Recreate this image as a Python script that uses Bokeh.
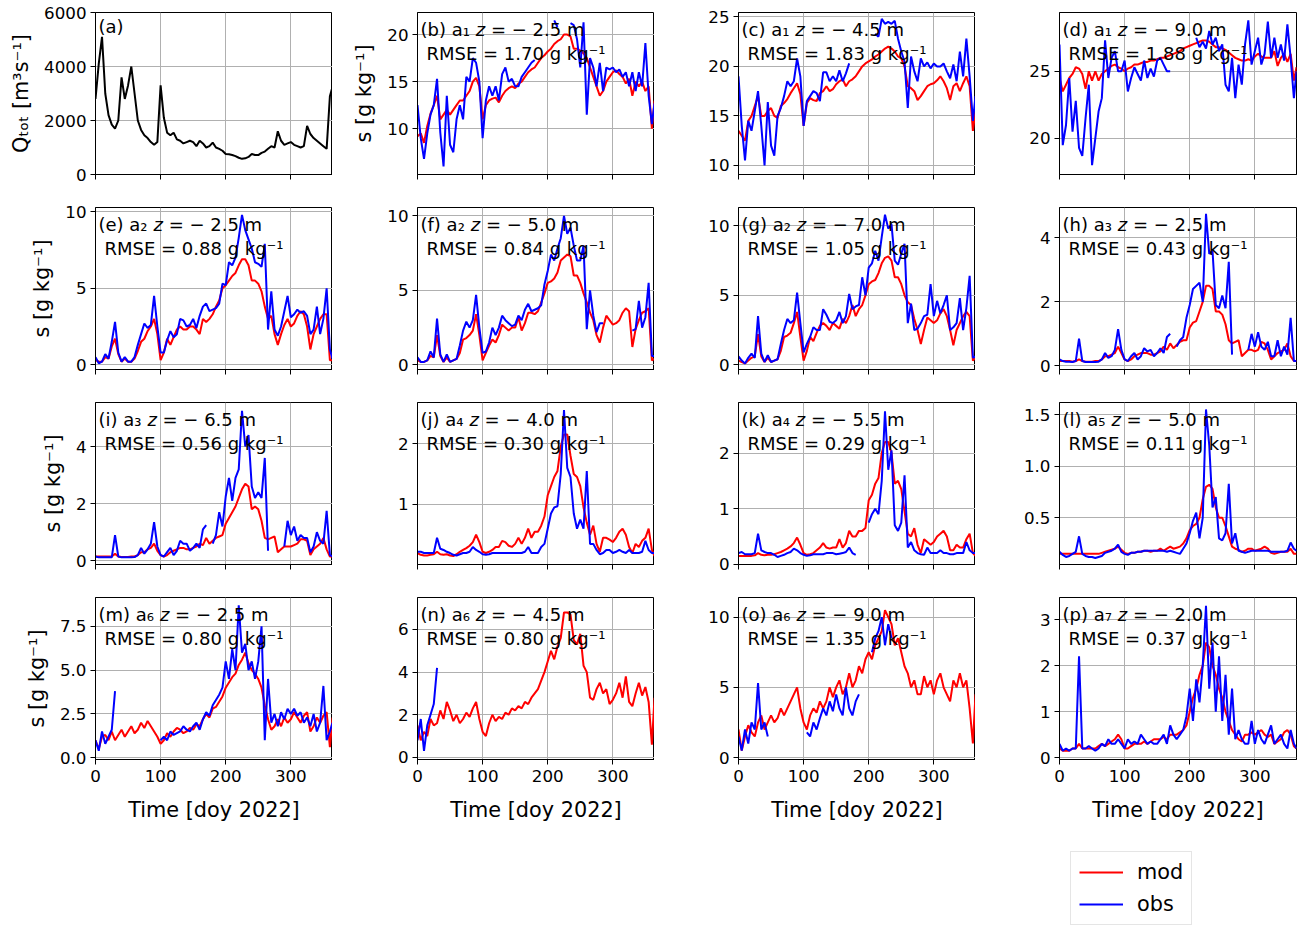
from bokeh.plotting import figure
from bokeh.models import Range1d, FixedTicker, Label, Legend, LegendItem, PrintfTickFormatter
from bokeh.layouts import gridplot, column
from bokeh.embed import file_html
from bokeh.resources import INLINE

nan = float("nan")

# ---------------- data ----------------
doy = list(range(0, 361, 5)) + [364]
x_ticks = [0, 100, 200, 300]

q_tot = [
    2800, 4100, 5100, 3000, 2200, 1850, 1700, 2000, 3600, 2800,
    3300, 4000, 3000, 2000, 1650, 1450, 1350, 1200, 1100, 1200,
    3300, 2100, 1550, 1450, 1550, 1300, 1250, 1150, 1200, 1250,
    1200, 1050, 1250, 1150, 1000, 1050, 1180, 1000, 950, 880,
    760, 750, 720, 680, 620, 580, 600, 650, 760, 720,
    720, 800, 850, 950, 1050, 1000, 1600, 1250, 1100, 1150,
    1200, 1100, 1050, 1000, 1050, 1800, 1500, 1350, 1250, 1150,
    1050, 950, 2900, 3250]

b_mod = [
    9.2, 9.5, 8.5, 10.3, 11.6, 12.5, 13.5, 11, 11.5, 12,
    11.5, 12, 12.5, 13, 13, 13.5, 14, 15, 15.4, 14.5,
    11, 12.5, 13, 13.2, 13.3, 12.8, 13.5, 14, 14.3, 14.5,
    14.3, 14.8, 15, 15.5, 16, 16.3, 16.5, 17, 17.5, 17.8,
    18.2, 18.5, 19, 19.3, 19.5, 20, 20, 19.8, 18.5, 18.5,
    18.3, 18, 17.5, 16.5, 15.5, 14.5, 13.5, 14, 15, 15.5,
    16, 16.2, 15.8, 15.5, 14.8, 15.3, 13.5, 15, 14.5, 15,
    14, 14.5, 10, 13]
b_obs = [
    12.5, 9, 6.8, 9.5, 11.5, 12.5, 15.3, 9.6, 6.0, 13.5,
    8.3, 7.5, 11, 12.5, 11, 15.5, 15, 17.5, 17, 15,
    9, 13, 14.5, 13.5, 14.5, 13, 15.8, 16.5, 15, 15.3,
    14.5, 14.5, 15.5, 16, 16.5, 17, 17.3, nan, nan, nan,
    nan, nan, 21.5, 20.8, nan, nan, nan, 21.2, 21, 19.5,
    16.5, 21.3, 11.5, 17.5, 16.5, 14.5, 17, 14, 16.5, 16.3,
    16.5, 16, 16.3, 15.5, 16, 14.5, 16, 14, 16, 14.5,
    19.1, 13.5, 10.5, 12.7]

c_mod = [
    13.5, 13, 12.5, 14.5, 15, 16, 17, 15, 15, 15.5,
    15.8, 15, 14.8, 16, 16.3, 16.7, 17.3, 17.8, 18.3, 17.2,
    14, 16.3, 16.8, 16.6, 16.5, 17.3, 17.5, 18, 17.5, 17.7,
    18.2, 18.5, 18.7, 18, 18.5, 18.7, 19, 19.5, 20, 20.3,
    20.5, 20.7, 21, 21.2, 21.5, 21.8, 22, 21.8, 21.5, 21,
    20.8, 20, 18, 17.8, 17.5, 16.6, 17, 17.5, 18, 18.2,
    18.3, 18.6, 19, 18.5, 17.8, 16.6, 18, 18.3, 17.5, 18.3,
    19, 18, 13.5, 15.5]
c_obs = [
    19, 14, 10.5, 14.5, 13.5, 15.5, 17.5, 14, 10, 16.4,
    12, 11, 15, 15.8, 17, 18.5, 18, 18.5, 20.8, 19,
    14, 16.5, 17, 17.5, 17.3, 16.5, 19.4, 19.4, 18.5, 19,
    18.5, 19.6, 18.5, 19.3, 20.3, nan, nan, nan, nan, nan,
    nan, nan, 23.3, 23, 24.8, 24.3, 24.5, 24.3, 24.6, 22.8,
    21.5, 20.5, 15.8, 21, 19.5, 18.5, 20.8, 20, 20.4, 19.8,
    20.3, 20, 20, 20.3, 19.5, 18.8, 20.2, 18.5, 21.5, 19,
    22.8, 19, 14.5, 17]

d_mod = [
    24.5, 23.5, 24, 24.5, 24.8, 25.3, 25.2, 24.8, 23.7, 25,
    24.3, 25, 24.3, 24.8, 25, 25.2, 25.4, 25.5, 25.3, 25.2,
    25, 25.2, 25.3, 25.5, 25.5, 25.6, 25.7, 25.7, 25.8, 25.8,
    25.9, 26, 26, 26.1, 26.2, 26.3, 26.4, 26.5, 26.7, 26.8,
    26.9, 27, 27.1, 27.2, 27.3, 27.3, 27.2, 27, 26.8, 26.8,
    26.7, 26.6, 26.4, 26.2, 26, 25.9, 25.8, 25.8, 25.9, 25.8,
    26.1, 26.3, 26.1, 26, 26, 26, 26.5, 25.4, 26, 26.3,
    25.7, 26.3, 24.3, 25.3]
d_obs = [
    27, 19.5, 21, 24.5, 20.5, 22.8, 19.3, 18.7, 21.5, 24,
    18, 20, 22, 23, 27.3, 24.5, 26, 26.5, 25, 25,
    25.8, 23.5, 24.5, 25.3, 24.8, 24.3, 25.8, 24.5, 25.2, 24.6,
    25.8, 26, 25.5, 25, 25, nan, nan, nan, nan, nan,
    nan, nan, 27.5, 26.8, 27.2, 26.7, 28, 27, 27.5, 26.5,
    27, 24, 23.5, 26, 23, 25.5, 24, 27, 28.8, 25.5,
    26.5, 27.5, 25.5, 26.3, 28.7, 26, 27.5, 26, 27, 25.8,
    28.5, 26, 23, 25]

e_mod = [
    0.3, 0.2, 0.2, 0.5, 0.4, 1.2, 1.7, 0.7, 0.2, 0.4,
    0.2, 0.2, 0.4, 0.9, 1.5, 1.7, 2.2, 2.5, 3.0, 2.0,
    0.3, 0.8, 1.7, 1.3, 1.8, 2.3, 2.5, 2.3, 2.3, 2.5,
    2.5, 2.3, 2.0, 3.0, 2.8, 3.0, 3.3, 3.8, 4.2, 5.0,
    5.2, 5.5, 5.8, 6.0, 6.5, 6.9, 6.9, 6.5, 5.5, 5.5,
    5.3, 4.8, 3.8, 3.0, 3.2, 2.0, 1.3, 2.0, 2.6, 3.0,
    2.5, 2.7, 3.2, 3.5, 3.3, 2.5, 1.0, 2.0, 2.5, 3.0,
    3.3, 3.3, 0.3, 0.3]
e_obs = [
    0.5, 0.1, 0.2, 0.7, 0.4, 1.5, 2.8, 0.8, 0.2, 0.5,
    0.2, 0.2, 0.5, 1.3, 2.0, 2.7, 2.4, 2.6, 4.5, 2.5,
    0.8, 0.8, 1.6, 2.2, 1.8, 2.0, 3.0, 2.9, 2.5, 2.6,
    3.0, 2.4, 3.2, 3.8, 4.0, 3.5, 3.6, 3.7, 4.0, 5.3,
    5.2, 6.7, 6.5, 7.0, 8.3, 9.8, 8.8, 8.2, 7.6, 6.7,
    6.6, 6.4, 7.9, 2.3, 4.8, 2.3, 1.9, 2.5, 3.5, 4.5,
    3.1, 3.3, 3.6, 3.4, 3.5, 3.2, 2.0, 2.3, 3.8, 2.0,
    3.0, 5.0, 1.0, 0.4]

f_mod = [
    0.3, 0.2, 0.2, 0.3, 0.6, 0.5, 2.0, 0.6, 0.2, 0.5,
    0.2, 0.3, 0.4, 0.8, 1.7, 1.8, 2.0, 2.3, 3.4, 2.0,
    0.3, 0.8, 1.3, 1.7, 1.5, 2.0, 2.7, 2.5, 2.3, 2.5,
    2.5, 3.2, 2.3, 2.8, 3.5, 3.5, 3.4, 3.6, 4.2, 4.8,
    5.5, 5.6, 5.8, 6.2, 7.0, 7.2, 7.4, 7.3, 6.0, 6.0,
    5.5, 4.8, 4.2, 3.5, 3.0, 2.0, 1.5, 2.5, 3.3, 3.0,
    2.7, 2.8, 3.0, 3.5, 3.8, 3.6, 1.2, 2.4, 3.0, 3.5,
    3.6, 3.8, 0.3, 0.4]
f_obs = [
    0.5, 0.2, 0.2, 0.3, 0.9, 0.5, 3.1, 0.7, 0.2, 0.7,
    0.2, 0.3, 0.4, 1.3, 2.3, 2.9, 2.5, 3.0, 4.7, 2.5,
    0.8, 0.9, 1.5, 2.5, 2.0, 2.5, 3.3, 3.0, 2.8, 2.6,
    2.7, 3.3, 3.0, 3.7, 4.1, 3.6, 3.7, 3.8, 4.0, 5.4,
    6.3, 7.4, 7.0, 7.8, 8.5, 10.0, 8.8, 9.2, 8.0, 7.0,
    7.0, 8.0, 2.4, 5.0, 3.3, 2.2, 2.8, 2.8, nan, nan,
    nan, nan, nan, nan, nan, nan, 2.3, 2.4, 4.3, 2.5,
    3.2, 5.5, 0.6, 0.6]

g_mod = [
    0.3, 0.2, 0.1, 0.3, 0.5, 0.6, 2.2, 0.6, 0.2, 0.5,
    0.2, 0.3, 0.4, 1.0, 2.0, 2.1, 2.3, 3.0, 3.8, 2.0,
    0.3, 1.0, 2.0, 1.7, 2.3, 2.8, 3.0, 2.8, 2.5, 3.0,
    2.8, 2.6, 3.3, 3.0, 3.5, 4.3, 3.5, 4.0, 4.3, 5.0,
    5.8, 6.0, 6.1, 6.6, 7.3, 7.7, 7.8, 7.5, 6.3, 6.3,
    5.8, 5.0, 4.5, 4.3, 3.3, 2.5, 1.5, 2.5, 3.4, 3.2,
    3.0, 3.2, 3.7, 4.0, 3.5, 2.5, 1.4, 2.5, 3.0, 3.5,
    3.8, 3.5, 0.3, 0.5]
g_obs = [
    0.6, 0.3, 0.1, 0.5, 0.8, 0.5, 3.5, 0.8, 0.2, 0.7,
    0.2, 0.3, 0.4, 1.5, 2.5, 3.3, 3.0, 3.2, 5.2, 3.0,
    0.9, 1.5, 2.0, 2.7, 2.5, 2.5, 4.0, 3.6, 3.1, 3.0,
    3.2, 3.8, 3.0, 3.5, 5.1, 4.0, 4.2, 4.3, 6.3, 5.0,
    7.0, 7.3, 8.2, 7.5, 9.2, 10.8, 9.8, 10.1, 7.5, 7.2,
    8.0, 8.7, 3.0, 4.4, 2.5, 2.6, 3.0, 3.5, 3.6, 5.8,
    3.5, 4.6, 3.7, 4.3, 5.0, 2.5, 2.7, 3.0, 4.8, 2.5,
    4.1, 6.4, 0.5, 0.6]

h_mod = [
    0.15, 0.15, 0.15, 0.15, 0.13, 0.15, 0.2, 0.15, 0.13, 0.13,
    0.13, 0.15, 0.15, 0.2, 0.3, 0.3, 0.35, 0.4, 0.6, 0.4,
    0.2, 0.15, 0.2, 0.3, 0.35, 0.4, 0.4, 0.4, 0.35, 0.35,
    0.4, 0.45, 0.6, 0.5, 0.7, 0.55, 0.65, 0.75, 0.8, 0.8,
    1.2, 1.35, 1.4, 1.7, 2.0, 2.5, 2.5, 2.4, 1.7, 1.7,
    1.6, 1.3, 0.8, 0.7, 0.75, 0.8, 0.3, 0.4, 0.5, 0.5,
    0.45, 0.5, 0.75, 0.7, 0.5, 0.2, 0.3, 0.4, 0.45, 0.5,
    0.7, 0.3, 0.15, 0.15]
h_obs = [
    0.2, 0.15, 0.13, 0.13, 0.12, 0.15, 0.85, 0.15, 0.12, 0.12,
    0.12, 0.12, 0.13, 0.2, 0.4, 0.25, 0.3, 0.5, 1.15, 0.5,
    0.2, 0.15, 0.3, 0.4, 0.2, 0.3, 0.55, 0.45, 0.5, 0.3,
    0.4, 0.55, 0.4, 0.9, 1.0, nan, 0.6, 0.8, 0.9, 1.5,
    1.9, 2.4, 2.5, 2.6, 2.0, 4.75, 3.5, 3.6, 1.9, 1.8,
    2.2, 1.8, 3.25, 0.35, nan, nan, nan, nan, 0.5, 1.0,
    0.6, 1.05, 0.6, 0.5, 0.75, 0.3, 0.3, 0.8, 0.3, 0.6,
    0.35, 1.5, 0.15, 0.15]

i_mod = [
    0.15, 0.15, 0.15, 0.15, 0.15, 0.15, 0.25, 0.15, 0.13, 0.13,
    0.13, 0.15, 0.15, 0.2, 0.3, 0.3, 0.4, 0.45, 0.6, 0.35,
    0.2, 0.15, 0.2, 0.3, 0.35, 0.4, 0.45, 0.45, 0.4, 0.4,
    0.45, 0.5, 0.6, 0.55, 0.8, 0.6, 0.7, 0.8, 0.85, 0.9,
    1.3, 1.5, 1.7, 1.9, 2.2, 2.5, 2.7, 2.6, 1.8, 1.9,
    1.8, 1.4, 0.8, 0.75, 0.8, 0.85, 0.3, 0.4, 0.5, 0.5,
    0.5, 0.55, 0.6, 0.75, 0.75, 0.7, 0.2, 0.4, 0.5, 0.6,
    0.8, 0.4, 0.15, 0.15]
i_obs = [
    0.15, 0.12, 0.12, 0.12, 0.12, 0.12, 0.9, 0.15, 0.12, 0.12,
    0.12, 0.12, 0.13, 0.2, 0.45, 0.25, 0.4, 0.6, 1.35, 0.5,
    0.2, 0.15, 0.3, 0.45, 0.2, 0.35, 0.7, 0.6, 0.6, 0.35,
    0.45, 0.6, 0.45, 1.1, 1.25, nan, 0.6, 0.9, 1.7, 1.2,
    2.25, 2.9, 2.1, 2.9, 3.2, 5.25, 4.0, 4.4, 2.6, 2.2,
    2.4, 2.2, 3.6, 0.35, nan, nan, nan, nan, 0.5, 1.4,
    0.9, 1.2, 0.7, 0.9, 0.8, 0.8, 0.3, 0.5, 1.0, 0.7,
    0.6, 1.75, 0.2, 0.15]

j_mod = [
    0.2, 0.17, 0.16, 0.16, 0.17, 0.18, 0.22, 0.18, 0.17, 0.18,
    0.16, 0.15, 0.18, 0.22, 0.25, 0.28, 0.32, 0.38, 0.5, 0.38,
    0.22, 0.2, 0.22, 0.25, 0.3, 0.3, 0.4, 0.38, 0.32, 0.3,
    0.35, 0.45, 0.35, 0.45, 0.6, 0.45, 0.55, 0.55, 0.65, 0.8,
    1.15, 1.3, 1.45, 1.55, 1.95, 2.15, 2.15, 1.8, 1.5, 1.45,
    1.3, 0.95, 0.7, 0.5, 0.65, 0.35, 0.22, 0.45, 0.45, 0.42,
    0.38, 0.45, 0.55, 0.6, 0.5, 0.3, 0.2, 0.35, 0.3, 0.4,
    0.45, 0.6, 0.25, 0.15]
j_obs = [
    0.22, 0.22, 0.2, 0.2, 0.2, 0.2, 0.45, 0.27, 0.25, 0.22,
    0.2, 0.17, 0.16, 0.18, 0.2, 0.2, 0.22, 0.3, 0.25, 0.22,
    0.18, 0.17, 0.18, 0.2, 0.2, 0.2, 0.2, 0.2, 0.2, 0.2,
    0.2, 0.2, 0.2, 0.22, 0.3, 0.2, 0.2, 0.2, 0.3, 0.35,
    0.6, 0.85, 0.95, 0.97, 1.5, 2.55, 1.6, 1.45, 0.85, 0.6,
    0.75, 0.6, 1.55, 0.35, 0.35, 0.25, 0.18, 0.2, 0.25, 0.25,
    0.2, 0.22, 0.25, 0.22, 0.2, 0.25, 0.2, 0.2, 0.2, 0.22,
    0.4, 0.25, 0.2, 0.2]

k_mod = [
    0.15, 0.15, 0.15, 0.15, 0.15, 0.16, 0.2, 0.17, 0.16, 0.17,
    0.17, 0.18, 0.2, 0.22, 0.25, 0.28, 0.32, 0.38, 0.48, 0.35,
    0.2, 0.17, 0.18, 0.2, 0.25, 0.3, 0.38, 0.3, 0.28, 0.3,
    0.3, 0.45, 0.3, 0.38, 0.6, 0.5, 0.5, 0.6, 0.6, 0.65,
    1.15, 1.25, 1.45, 1.55, 2.0, 2.2, 2.2, 2.0, 1.45, 1.5,
    1.35, 0.95, 0.55, 0.5, 0.65, 0.35, 0.2, 0.45, 0.4, 0.35,
    0.4, 0.5, 0.55, 0.6, 0.5, 0.25, 0.25, 0.35, 0.3, 0.3,
    0.45, 0.55, 0.2, 0.15]
k_obs = [
    0.2, 0.22, 0.18, 0.18, 0.18, 0.2, 0.55, 0.25, 0.22, 0.2,
    0.2, 0.17, 0.13, 0.15, 0.17, 0.2, 0.22, 0.28, 0.25, 0.2,
    0.17, 0.15, 0.16, 0.18, 0.18, 0.18, 0.18, 0.2, 0.2, 0.2,
    0.18, 0.19, 0.2, 0.22, 0.3, 0.2, 0.17, nan, nan, nan,
    0.75, 0.9, 1.0, 0.9, 1.5, 2.75, 1.7, 2.05, 0.7, 0.6,
    0.75, 1.6, 0.3, 0.4, 0.25, 0.2, 0.18, 0.17, 0.3, 0.2,
    0.2, 0.2, 0.25, 0.2, 0.2, 0.18, 0.18, 0.2, 0.2, 0.2,
    0.4, 0.25, 0.2, 0.2]

l_mod = [
    0.15, 0.15, 0.15, 0.15, 0.15, 0.15, 0.15, 0.15, 0.15, 0.15,
    0.15, 0.15, 0.15, 0.16, 0.17, 0.18, 0.19, 0.2, 0.22, 0.19,
    0.16, 0.15, 0.16, 0.16, 0.17, 0.17, 0.18, 0.18, 0.17, 0.18,
    0.18, 0.2, 0.18, 0.2, 0.22, 0.2, 0.21, 0.22, 0.25, 0.3,
    0.38, 0.42, 0.44, 0.5, 0.68, 0.8, 0.82, 0.78, 0.6, 0.5,
    0.5, 0.42, 0.32, 0.22, 0.2, 0.19, 0.17, 0.18, 0.2, 0.2,
    0.18, 0.19, 0.2, 0.22, 0.2, 0.16, 0.15, 0.16, 0.17, 0.17,
    0.17, 0.2, 0.15, 0.15]
l_obs = [
    0.17, 0.14, 0.12, 0.13, 0.15, 0.17, 0.32, 0.15, 0.13, 0.12,
    0.12, 0.11, 0.12, 0.13, 0.16, 0.17, 0.18, 0.2, 0.24, 0.17,
    0.15, 0.14, 0.16, 0.16, 0.17, 0.17, 0.18, 0.18, 0.18, 0.18,
    0.18, 0.18, 0.18, 0.17, 0.18, 0.17, 0.16, 0.15, 0.2, 0.25,
    0.35, 0.47, 0.55, 0.3, 0.5, 1.55, 1.2, 0.6, 0.7, 0.3,
    0.28, 0.35, 0.83, 0.25, 0.35, 0.18, 0.17, 0.16, 0.17, 0.18,
    0.18, 0.18, 0.18, 0.18, 0.18, 0.17, 0.17, 0.17, 0.17, 0.17,
    0.18, 0.26, 0.2, 0.18]

m_mod = [
    1.0, 0.5, 1.2, 1.3, 1.0, 1.5, 1.0, 1.3, 1.6, 1.2,
    1.5, 1.8, 1.4, 1.6, 2.0, 1.7, 2.1, 1.8, 1.5, 1.2,
    0.8, 1.0, 1.4, 1.2, 1.5, 1.7, 1.6, 1.4, 1.5, 1.7,
    1.6, 1.9, 1.8, 2.2, 2.5, 2.3, 2.8, 2.9, 3.2, 3.5,
    4.0, 4.3, 4.6, 4.8, 5.3, 5.6, 6.0, 5.4, 5.0, 4.8,
    4.5, 4.0, 3.0, 2.2, 1.6, 1.8, 2.2, 1.8, 2.3, 2.0,
    2.2, 2.6, 2.3, 2.0, 2.4, 2.6, 1.5, 1.8, 2.3, 2.0,
    2.4, 2.6, 0.6, 2.3]
m_obs = [
    1.0, 0.4, 1.5, 0.8, 1.2, 1.6, 3.8, nan, nan, nan,
    nan, nan, nan, nan, nan, nan, nan, nan, nan, nan,
    1.0, 1.2, 1.0, 1.5, 1.3, 1.4, 1.5, 1.8, 1.6, 1.5,
    1.8, 2.0, 1.6, 2.2, 2.6, 2.4, 3.0, 3.3, 3.6, 4.0,
    5.5, 4.5, 6.2, 5.0, 8.7, 6.0, 6.5, 5.0, 5.5, 4.5,
    5.5, 7.5, 1.0, 4.5, 2.0, 2.5, 1.8, 2.6, 2.2, 2.8,
    2.5, 2.8, 2.4, 2.6, 2.0, 2.3, 1.8, 2.5, 1.5, 2.0,
    4.1, 1.0, 1.5, 2.0]

n_mod = [
    1.5, 0.8, 1.2, 1.0, 1.8, 1.5, 1.6, 2.2, 1.8, 2.6,
    2.2, 1.7, 2.0, 1.6, 1.8, 2.1, 1.9, 2.3, 2.6, 1.8,
    1.2, 1.0, 1.6, 2.0, 1.7, 1.9, 1.8, 2.1, 2.0, 2.3,
    2.2, 2.4, 2.3, 2.6, 2.5, 2.8, 3.0, 3.2, 3.6, 4.0,
    4.5, 5.0, 4.6, 5.2, 5.6, 6.8, 6.8, 6.7, 5.5, 5.3,
    5.8, 4.3, 4.0, 2.8, 2.7, 3.2, 3.5, 3.0, 3.2, 2.5,
    2.7, 3.0, 3.5, 2.8, 3.8, 2.6, 2.4, 3.0, 3.5, 2.9,
    3.3, 2.6, 0.6, 2.8]
n_obs = [0.8, 1.8, 0.3, 1.5, 2.0, 2.5, 4.2]

o_mod = [
    2.0, 0.5, 1.5, 2.3, 1.8, 1.5, 2.5, 3.0, 2.0, 2.5,
    3.0, 2.5, 2.8, 3.5, 3.0, 3.5, 4.0, 4.5, 5.0, 3.5,
    2.5, 2.0, 3.0, 3.5, 3.2, 4.0, 3.5, 4.0, 5.0, 4.3,
    5.0, 5.5, 4.5, 5.0, 6.0, 5.0, 5.5, 6.5, 6.0, 7.0,
    7.5, 7.0, 8.0, 8.5, 9.0, 10.5, 10.0, 9.5, 8.0, 8.5,
    7.5, 6.5, 6.0, 5.0, 5.5, 4.5, 4.5, 5.8, 5.0, 5.5,
    4.5, 5.5, 6.0, 5.0, 4.5, 4.0, 5.5, 5.0, 6.0, 5.0,
    5.5, 3.5, 1.0, 4.5]
o_obs = [
    1.5, 0.5, 2.0, 1.0, 2.5, 2.0, 5.3, 2.0, 2.5, 1.5,
    nan, nan, nan, nan, nan, nan, nan, nan, nan, nan,
    nan, 1.8, 1.5, 2.5, 2.0, 2.8, 3.5, 3.0, 4.0, 3.3,
    4.5, 3.5, 3.0, 5.0, 3.5, 3.0, 4.0, 4.5, nan, nan,
    nan, 7.5, 8.5, 9.0, 10.0, 8.0, 9.5, 8.5]

p_mod = [
    0.2, 0.15, 0.15, 0.15, 0.2, 0.2, 0.3, 0.2, 0.2, 0.2,
    0.2, 0.2, 0.25, 0.3, 0.25, 0.3, 0.35, 0.4, 0.5, 0.4,
    0.2, 0.2, 0.25, 0.3, 0.3, 0.3, 0.35, 0.3, 0.35, 0.4,
    0.4, 0.4, 0.45, 0.4, 0.5, 0.5, 0.5, 0.55, 0.6, 0.7,
    1.0, 1.3, 1.5, 1.8, 2.0, 2.5, 2.4, 2.0, 1.8, 1.5,
    1.3, 1.0, 0.8, 0.6, 0.5, 0.4, 0.35, 0.5, 0.5, 0.55,
    0.5, 0.55, 0.6, 0.5, 0.45, 0.5, 0.3, 0.35, 0.4, 0.55,
    0.6, 0.5, 0.25, 0.2]
p_obs = [
    0.3, 0.15, 0.2, 0.15, 0.2, 0.2, 2.2, 0.2, 0.2, 0.25,
    0.2, 0.15, 0.2, 0.3, 0.25, 0.4, 0.3, 0.3, 0.4, 0.3,
    0.2, 0.4, 0.3, 0.35, 0.3, 0.5, 0.4, 0.3, 0.35, 0.3,
    0.3, 0.4, 0.5, 0.3, 0.7, 0.5, 0.4, 0.5, 0.6, 0.9,
    1.5, 0.8, 1.7, 1.2, 2.0, 3.3, 1.5, 2.5, 1.0, 2.2,
    0.8, 1.8, 0.5, 1.5, 0.4, 0.6, 0.4, 0.3, 0.3, 0.8,
    0.3, 0.6, 0.4, 0.3, 0.5, 0.7, 0.3, 0.4, 0.5, 0.3,
    0.2, 0.6, 0.3, 0.2]

letters = ["b", "c", "d", "e", "f", "g", "h", "i", "j", "k", "l", "m", "n", "o", "p"]
stations = ["₁", "₁", "₁", "₂", "₂", "₂", "₃", "₃", "₄", "₄", "₅", "₆", "₆", "₆", "₇"]
depths = ["2.5", "4.5", "9.0", "2.5", "5.0", "7.0", "2.5", "6.5", "4.0", "5.5",
          "5.0", "2.5", "4.5", "9.0", "2.0"]
rmse = ["1.70", "1.83", "1.88", "0.88", "0.84", "1.05", "0.43", "0.56", "0.30", "0.29",
        "0.11", "0.80", "0.80", "1.35", "0.37"]
mods = [b_mod, c_mod, d_mod, e_mod, f_mod, g_mod, h_mod, i_mod, j_mod, k_mod, l_mod,
        m_mod, n_mod, o_mod, p_mod]
obss = [b_obs, c_obs, d_obs, e_obs, f_obs, g_obs, h_obs, i_obs, j_obs, k_obs, l_obs,
        m_obs, n_obs, o_obs, p_obs]
y_ticks = [[10, 15, 20], [10, 15, 20, 25], [20, 25], [0, 5, 10], [0, 5, 10], [0, 5, 10],
           [0, 2, 4], [0, 2, 4], [1, 2], [0, 1, 2], [0.5, 1.0, 1.5], [0.0, 2.5, 5.0, 7.5],
           [0, 2, 4, 6], [0, 5, 10], [0, 1, 2, 3]]
q_ticks = [0, 2000, 4000, 6000]

# ---------------- style / layout ----------------
FONT = "DejaVu Sans"
TICK_FS = "16.7px"
LABEL_FS = "20.8px"
ANN = 18
Y_LIMITS = [(5.14, 22.34), (9.09, 25.44), (17.31, 29.38), (-0.31, 10.28), (-0.31, 10.56),
            (-0.34, 11.32), (-0.115, 4.95), (-0.13, 5.54), (0.011, 2.676), (-0.005, 2.91),
            (0.047, 1.617), (-0.1, 9.15), (-0.1, 7.5), (-0.14, 11.4), (-0.04, 3.48)]
Y_FMT = ["%d"] * 10 + ["%.1f", "%.1f", "%d", "%d", "%d"]
S_LABEL = "s [g kg⁻¹]"

ADV = {"(": 799, ")": 799, " ": 651, "a": 1255, "b": 1300, "c": 1126, "d": 1300, "e": 1260,
       "f": 721, "g": 1300, "h": 1298, "i": 569, "j": 569, "k": 1186, "l": 569, "m": 1995,
       "n": 1298, "o": 1253, "p": 1300, "z": 1075}


def tw(s):
    return sum(ADV.get(ch, 838) for ch in s) * ANN / 2048.0


def make_fig(r, c, ylim, yt, fmt, ylabel=None):
    p = figure(frame_width=237, frame_height=162,
               min_border_left=[95, 85, 84, 84][c], min_border_right=[0, 0, 0, 18][c],
               min_border_top=12 if r == 0 else 17, min_border_bottom=70 if r == 3 else 16,
               x_range=Range1d(0, 364), y_range=Range1d(*ylim),
               toolbar_location=None, tools="", output_backend="svg")
    p.outline_line_color = "black"
    p.outline_line_width = 1
    p.xaxis.ticker = FixedTicker(ticks=x_ticks)
    p.yaxis.ticker = FixedTicker(ticks=yt)
    p.xgrid.ticker = FixedTicker(ticks=x_ticks)
    p.ygrid.ticker = FixedTicker(ticks=yt)
    p.yaxis.formatter = PrintfTickFormatter(format=fmt)
    p.grid.grid_line_color = "#b0b0b0"
    p.grid.grid_line_width = 1
    p.axis.axis_line_color = "black"
    p.axis.major_tick_line_color = "black"
    p.axis.major_tick_out = 5
    p.axis.major_tick_in = 0
    p.axis.minor_tick_line_color = None
    p.axis.major_label_text_font = FONT
    p.axis.major_label_text_font_size = TICK_FS
    p.axis.major_label_text_color = "black"
    p.axis.axis_label_text_font = FONT
    p.axis.axis_label_text_font_size = LABEL_FS
    p.axis.axis_label_text_font_style = "normal"
    p.axis.axis_label_text_color = "black"
    p.yaxis.axis_label_standoff = 8
    p.xaxis.axis_label_standoff = 13
    p.yaxis.major_label_standoff = 4
    p.xaxis.major_label_standoff = 5
    if r < 3:
        p.xaxis.major_label_text_color = None
    else:
        p.xaxis.axis_label = "Time [doy 2022]"
    if ylabel:
        p.yaxis.axis_label = ylabel
    return p


lbl = dict(x_units="data", y_units="data", text_font=FONT, text_font_size=f"{ANN}px",
           text_color="black", text_baseline="alphabetic", text_align="left")

rows = [[None] * 4 for _ in range(4)]

pa = make_fig(0, 0, (0, 6000), q_ticks, "%d", "Qₜₒₜ [m³s⁻¹]")
pa.line(doy, q_tot, line_color="black", line_width=2)
pa.add_layout(Label(x=0, y=6000, x_offset=3, y_offset=-14, text="(a)", **lbl))
rows[0][0] = pa

Y1, Y2 = -17, -41
for k in range(15):
    idx = k + 1
    r, c = divmod(idx, 4)
    ylabel = S_LABEL if idx in (1, 4, 8, 12) else None
    lo, hi = Y_LIMITS[k]
    p = make_fig(r, c, (lo, hi), y_ticks[k], Y_FMT[k], ylabel)
    p.line(doy, mods[k], line_color="red", line_width=2)
    ob = obss[k]
    p.line(doy[:len(ob)], ob, line_color="blue", line_width=2)
    pre = f"({letters[k]}) a{stations[k]} "
    x0 = 3
    p.add_layout(Label(x=0, y=hi, x_offset=x0, y_offset=Y1, text=pre.strip(), **lbl))
    zx = x0 + tw(pre)
    p.add_layout(Label(x=0, y=hi, x_offset=zx, y_offset=Y1, text="z",
                       text_font_style="italic", **lbl))
    p.add_layout(Label(x=0, y=hi, x_offset=zx + tw("z "), y_offset=Y1,
                       text=f"= − {depths[k]} m", **lbl))
    p.add_layout(Label(x=0, y=hi, x_offset=9, y_offset=Y2,
                       text=f"RMSE = {rmse[k]} g kg⁻¹", **lbl))
    rows[r][c] = p

grid = gridplot(rows, toolbar_location=None)

# legend panel: the two series are drawn outside the visible range, only the legend shows
lf = figure(width=1314, height=97, x_range=Range1d(-2, -1), y_range=Range1d(0, 1),
            toolbar_location=None, tools="", output_backend="svg", min_border=0,
            x_axis_type=None, y_axis_type=None, outline_line_color=None)
r_mod = lf.line(doy, p_mod, line_color="red", line_width=2)
r_obs = lf.line(doy, p_obs, line_color="blue", line_width=2)
legend = Legend(items=[LegendItem(label="mod", renderers=[r_mod]),
                       LegendItem(label="obs", renderers=[r_obs])],
                location=(1070, 1), orientation="vertical", glyph_width=44, glyph_height=22,
                label_standoff=14, label_height=22, label_text_font=FONT,
                label_text_font_size=LABEL_FS, label_text_color="black",
                padding=8, spacing=8, margin=0, border_line_color="#cccccc",
                border_line_width=1, background_fill_color="white", background_fill_alpha=1)
lf.add_layout(legend)

layout = column(grid, lf)
open("out.html", "w").write(file_html(layout, INLINE))
